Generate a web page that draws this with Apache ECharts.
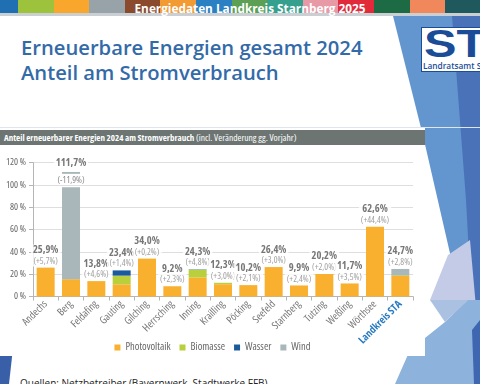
<!DOCTYPE html>
<html>
<head>
<meta charset="utf-8">
<script src="https://cdn.jsdelivr.net/npm/echarts@6/dist/echarts.min.js"></script>
<style>
  html, body { margin:0; padding:0; width:480px; height:384px; overflow:hidden; background:#fff; }
  .abs { position:absolute; }
  #banner div { position:absolute; top:0; height:13px; }
  #bannerText { position:absolute; left:125px; width:250px; top:0; height:13px; line-height:13px; text-align:center;
    color:#fff; font:bold 11.8px "Open Sans", "DejaVu Sans", sans-serif; }
  #title { left:21px; top:35px; color:#336aa8; font:600 20.2px/25px "Open Sans", sans-serif; white-space:nowrap; }
  #panelHead { left:0; top:130px; width:425px; height:15px; background:#6d7573; color:#fff;
    font-family:"Open Sans", sans-serif; font-stretch:condensed; font-size:9.5px; line-height:15px; white-space:nowrap; }
  #panelHead b { padding-left:4px; font-size:9px; }
  #logo { left:421px; top:27px; width:70px; height:45px; background:#fff; border:1px solid #1a4c98; box-sizing:border-box; }
  #logoBig { left:424px; top:24px; color:#1a4c98; font:bold 39px/39px "Liberation Sans", Arial, sans-serif; transform:scaleX(1.25); transform-origin:0 0; }
  #logoSmall { left:423px; top:61px; color:#1a4c98; font-family:"Open Sans", sans-serif; font-weight:600; font-size:8.3px; line-height:10px; white-space:nowrap; }
  #footer { left:20px; top:377px; color:#222; font:10px/12px "Open Sans", sans-serif; white-space:nowrap; }
</style>
</head>
<body>
<script>
// ---------------- data ----------------
const categories = ['Andechs','Berg','Feldafing','Gauting','Gilching','Herrsching','Inning','Krailling','Pöcking','Seefeld','Starnberg','Tutzing','Weßling','Wörthsee','Landkreis STA'];
const photovoltaik = [25.9, 15.5, 13.8, 10.9, 34.0, 9.2, 17.0, 11.0, 10.2, 26.4, 9.9, 20.2, 11.7, 62.6, 18.7];
const biomasse     = [0, 0, 0, 7.8, 0, 0, 7.0, 1.3, 0, 0, 0, 0, 0, 0, 0.4];
const wasser       = [0, 0, 0, 4.7, 0, 0, 0.3, 0, 0, 0, 0, 0, 0, 0, 0.1];
const wind         = [0, 96.2, 0, 0, 0, 0, 0, 0, 0, 0, 0, 0, 0, 0, 5.5];
const veraenderung = [5.7, -11.9, 4.6, 1.4, 0.2, 2.3, 4.8, 3.0, 2.1, 3.0, 2.4, 2.0, 3.5, 44.4, 2.8];
const legendNames  = ['Photovoltaik', 'Biomasse', 'Wasser', 'Wind'];
const yMin = 0, yMax = 120, yInterval = 20;
// bar break drawn inside bars that exceed the visible range
const barBreak = { from: 98, to: 110 };
</script>

<div id="banner"></div>
<div class="abs" style="left:0;top:13px;width:480px;height:3px;background:#c9cfd3;"></div>

<!-- right decoration -->
<svg class="abs" style="left:0;top:0" width="480" height="384">
  <polygon points="393,16 480,16 480,384 472,384 452,262 424,140" fill="#6396cf"/>
  <polygon points="452,16 480,16 480,384 476,384 466,200" fill="#4a72b9"/>
  <polygon points="448,255 470,240 478,330 430,300" fill="#c3cbe7"/>
  <polygon points="395,384 480,384 480,300 468,300 445,322 410,350" fill="#8db2dc"/>
  <polygon points="430,300 468,300 445,322" fill="#aac1e2"/>
  <polygon points="472,330 480,320 480,384 474,384" fill="#3f66b0"/>
  <polygon points="0,338 13,348 9,384 0,384" fill="#3a5fa9"/>
</svg>

<div class="abs" style="left:0;top:127px;width:480px;height:1px;background:#dfe5ec;"></div>
<div class="abs" style="left:0;top:128px;width:425px;height:228px;background:#fff;"></div>

<div id="bannerText">Energiedaten Landkreis Starnberg 2025</div>
<div id="title" class="abs">Erneuerbare Energien gesamt 2024<br>Anteil am Stromverbrauch</div>

<div id="logo" class="abs"></div>
<div id="logoBig" class="abs">STA</div>
<div id="logoSmall" class="abs">Landratsamt Starnberg</div>

<div id="panelHead" class="abs"><b>Anteil erneuerbarer Energien 2024 am Stromverbrauch</b> (incl. Veränderung gg. Vorjahr)</div>
<div id="chart" class="abs" style="left:0;top:145px;width:425px;height:211px;"></div>

<div id="footer" class="abs">Quellen: Netzbetreiber (Bayernwerk, Stadtwerke FFB)</div>

<script>
// banner stripes
(function(){
  const cols = ['#1f6fb2','#9dc33d','#f8a72c','#97a3a9','#8a4a2b','#f29a33','#2a80c2','#5c9f55','#36a08e','#e79aa5','#e12b3b','#1d6b45','#f0885c','#1f585d'];
  const b = document.getElementById('banner');
  cols.forEach((c,i)=>{ const d=document.createElement('div'); d.style.left=(-17.6+i*35.6)+'px'; d.style.width='36px'; d.style.background=c; b.appendChild(d); });
})();

const FONT = '"Open Sans", sans-serif';
const ST = 'condensed';   // font-stretch keyword passed through the font shorthand
const fmt = v => v.toFixed(1).replace('.', ',');
const totals = categories.map((c,i)=> +(photovoltaik[i]+biomasse[i]+wasser[i]+wind[i]).toFixed(1));
const broken = totals.map(t => t > barBreak.from);
const windLow = wind.map((w,i)=> broken[i] ? +(barBreak.from - photovoltaik[i]-biomasse[i]-wasser[i]).toFixed(2) : w);
const gap = totals.map((t,i)=> broken[i] ? barBreak.to - barBreak.from : 0);
const windTop = totals.map((t,i)=> broken[i] ? +(t - barBreak.to).toFixed(2) : 0);
const changeText = veraenderung.map(v => '(' + (v>=0?'+':'') + fmt(v) + '%)');

const colors = { Photovoltaik:'#f9b02f', Biomasse:'#b9cf3b', Wasser:'#1c5a9e', Wind:'#a9b6ba' };
const barW = '71%';
const bar = (name, data, extra) => Object.assign({ type:'bar', name, stack:'s', data, barWidth:barW,
  itemStyle:{ color: colors[name] }, emphasis:{disabled:true} }, extra||{});

const chart = echarts.init(document.getElementById('chart'), null, {renderer:'canvas'});
chart.setOption({
  animation:false,
  textStyle:{ fontFamily: FONT, fontStyle: ST },
  grid:{ left:33, right:12, top:17.7, bottom:59.5, containLabel:false, outerBoundsMode:'none' },
  legend:{ data: legendNames, bottom:3, padding:0, left:'center', icon:'rect', itemWidth:6, itemHeight:6, itemGap:9,
    textStyle:{ fontFamily:FONT, fontStyle:ST, fontSize:10.5, color:'#666' }, selectedMode:false },
  xAxis:{ type:'category', data:categories,
    axisLine:{ show:true, lineStyle:{ color:'#b5b5b5' } },
    axisTick:{ show:true, alignWithLabel:false, length:4, lineStyle:{ color:'#b5b5b5' } },
    axisLabel:{ interval:0, rotate:45, margin:6, fontFamily:FONT, fontStyle:ST, fontSize:10.5, color:'#777',
      formatter: v => v === 'Landkreis STA' ? '{h|' + v + '}' : v,
      rich:{ h:{ fontFamily:FONT, fontStyle:ST, fontSize:10.5, fontWeight:'bold', color:'#2a7bc0' } } } },
  yAxis:{ type:'value', min:yMin, max:yMax, interval:yInterval,
    axisLine:{ show:true, lineStyle:{ color:'#b5b5b5' } },
    axisTick:{ show:true, length:4, lineStyle:{ color:'#b5b5b5' } },
    splitLine:{ show:true, lineStyle:{ color:'#d6d6d6', width:0.8 } },
    axisLabel:{ formatter:'{value} %', fontFamily:FONT, fontStyle:ST, fontSize:9.5, color:'#666', margin:7 } },
  series:[
    bar('Photovoltaik', photovoltaik),
    bar('Biomasse', biomasse),
    bar('Wasser', wasser),
    bar('Wind', windLow),
    { type:'bar', name:'_gap', stack:'s', data: gap.map((g,i)=>({ value:g,
        label:{ show: broken[i], position:'inside', formatter: changeText[i] } })),
      barWidth:barW, itemStyle:{ color:'rgba(0,0,0,0)' }, silent:true,
      label:{ fontFamily:FONT, fontStyle:ST, fontSize:9, color:'#888', backgroundColor:'#fff', padding:[0,1] } },
    bar('Wind', windTop),
    { type:'scatter', name:'_labels', symbolSize:0, silent:true, z:10,
      data: totals.map((t,i)=>({ value:[i, t],
        label: broken[i] ? { formatter: '{a|' + fmt(t) + '%}', distance:3 }
                         : { formatter: '{a|' + fmt(t) + '%}\n{b|' + changeText[i] + '}', distance:1 } })),
      label:{ show:true, position:'top', backgroundColor:'#fff', padding:[0,2],
        rich:{ a:{ fontFamily:FONT, fontStyle:ST, fontSize:10.5, fontWeight:'bold', color:'#555', lineHeight:11, align:'center' },
               b:{ fontFamily:FONT, fontStyle:ST, fontSize:9, color:'#888', lineHeight:11, align:'center' } } } }
  ]
});
</script>
</body>
</html>
